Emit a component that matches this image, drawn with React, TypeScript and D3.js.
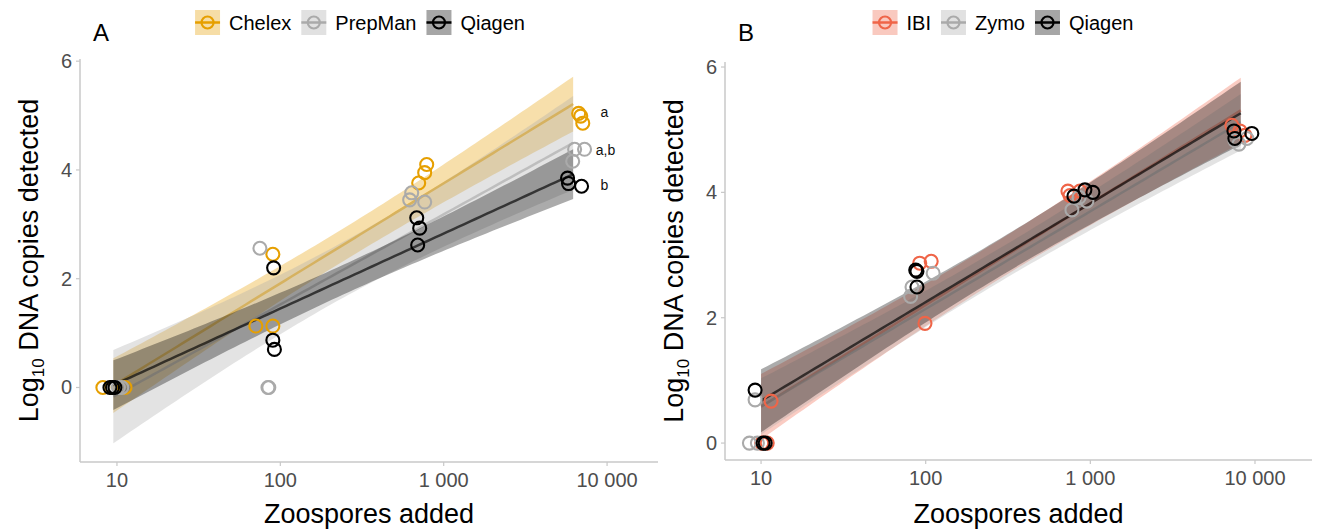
import React from "react";
import * as d3 from "d3";

const W = 1327;
const H = 532;
const FONT = "'Liberation Sans', Arial, Helvetica, sans-serif";

// ---- panel A: Chelex / PrepMan / Qiagen ----
const dosesA = [9.5, 82, 700, 6200];
// [dose group, jittered zoospores, log10 copies]
const chelexA = [
  [0, 8.2, 0], [0, 9.3, 0], [0, 11.2, 0],
  [1, 70.8, 1.13], [1, 90, 1.13], [1, 90, 2.45],
  [2, 787, 4.1], [2, 765, 3.95], [2, 703, 3.76],
  [3, 6700, 5.04], [3, 6900, 4.99], [3, 7100, 4.86],
];
const prepmanA = [
  [0, 10.7, 0], [0, 10.2, 0], [0, 9.8, 0],
  [1, 75, 2.56], [1, 84, 0], [1, 85, 0],
  [2, 637, 3.58], [2, 619, 3.45], [2, 765, 3.41],
  [3, 6330, 4.38], [3, 7280, 4.38], [3, 6160, 4.16],
];
const qiagenA = [
  [0, 9.06, 0], [0, 9.72, 0], [0, 9.4, 0],
  [1, 91, 2.2], [1, 90, 0.87], [1, 92, 0.7],
  [2, 684, 3.12], [2, 713, 2.93], [2, 693, 2.62],
  [3, 5730, 3.85], [3, 5810, 3.75], [3, 6980, 3.7],
];
const namesA = ["Chelex", "PrepMan", "Qiagen"];
const colorsA = ["#E69F00", "#AAAAAA", "#000000"];
const lettersA = [
  { text: "a", x: 9120, y: 5.07 },
  { text: "a,b", x: 8520, y: 4.37 },
  { text: "b", x: 9120, y: 3.73 },
];

// ---- panel B: IBI / Zymo / Qiagen ----
const dosesB = [10, 95, 850, 8200];
const ibiB = [
  [0, 11.5, 0.67], [0, 10.9, 0], [0, 10.1, 0],
  [1, 92, 2.87], [1, 108, 2.9], [1, 99, 1.91],
  [2, 731, 4.02], [2, 865, 4.02], [2, 752, 3.95],
  [3, 7240, 5.07], [3, 8690, 4.91], [3, 8100, 4.98],
];
const zymoB = [
  [0, 9.2, 0.69], [0, 8.5, 0], [0, 9.5, 0],
  [1, 82.6, 2.49], [1, 81, 2.34], [1, 111, 2.71],
  [2, 773, 3.72], [2, 953, 3.86], [2, 854, 3.92],
  [3, 7550, 4.83], [3, 7990, 4.77], [3, 8930, 4.86],
];
const qiagenB = [
  [0, 9.2, 0.845], [0, 10.3, 0], [0, 10.6, 0],
  [1, 87, 2.76], [1, 88.5, 2.74], [1, 88.5, 2.49],
  [2, 795, 3.94], [2, 927, 4.04], [2, 1037, 4.0],
  [3, 7450, 4.98], [3, 9570, 4.94], [3, 7550, 4.86],
];
const namesB = ["IBI", "Zymo", "Qiagen"];
const colorsB = ["#EF6548", "#AAAAAA", "#000000"];

const yTicks = [0, 2, 4, 6];
const xTicks = [10, 100, 1000, 10000];
const xTickLabels = ["10", "100", "1 000", "10 000"];

// t quantile (0.975) for n - 2 = 10 df
const T975 = 2.228;

// lm fit with 95% confidence band, like geom_smooth(method = "lm")
function lmBand(pts: number[][], doses: number[]) {
  const xs = pts.map((p) => Math.log10(doses[p[0]]));
  const ys = pts.map((p) => p[2]);
  const n = xs.length;
  const mx = d3.mean(xs)!;
  const my = d3.mean(ys)!;
  const sxx = d3.sum(xs, (x) => (x - mx) ** 2);
  const sxy = d3.sum(xs, (x, i) => (x - mx) * (ys[i] - my));
  const b = sxy / sxx;
  const a = my - b * mx;
  const sse = d3.sum(xs, (x, i) => (ys[i] - a - b * x) ** 2);
  const s = Math.sqrt(sse / (n - 2));
  const [lo, hi] = d3.extent(xs) as [number, number];
  return d3.range(81).map((i) => {
    const lx = lo + ((hi - lo) * i) / 80;
    const yh = a + b * lx;
    const se = s * Math.sqrt(1 / n + (lx - mx) ** 2 / sxx);
    return { x: 10 ** lx, y: yh, lo: yh - T975 * se, hi: yh + T975 * se };
  });
}

let ctx: CanvasRenderingContext2D | null = null;
function textWidth(t: string, size: number) {
  if (!ctx) ctx = document.createElement("canvas").getContext("2d");
  if (!ctx) return t.length * size * 0.55;
  ctx.font = `${size}px ${FONT}`;
  return ctx.measureText(t).width;
}

type PanelProps = {
  letter: string;
  left: number;
  right: number;
  top: number;
  bottom: number;
  xDomain: number[];
  yDomain: number[];
  doses: number[];
  groups: number[][][];
  names: string[];
  colors: string[];
  legendCenter: number;
  notes?: { text: string; x: number; y: number }[];
};

function Panel(p: PanelProps) {
  const x = d3.scaleLog().domain(p.xDomain).range([p.left, p.right]);
  const y = d3.scaleLinear().domain(p.yDomain).range([p.bottom, p.top]);
  const area = d3
    .area<{ x: number; lo: number; hi: number }>()
    .x((d) => x(d.x))
    .y0((d) => y(d.lo))
    .y1((d) => y(d.hi));
  const line = d3
    .line<{ x: number; y: number }>()
    .x((d) => x(d.x))
    .y((d) => y(d.y));

  const axisColor = "#c8c8c8";
  const tickColor = "#4d4d4d";
  const midY = (p.top + p.bottom) / 2;
  const midX = (p.left + p.right) / 2;

  // legend layout
  const key = 25;
  const legendSize = 20;
  const widths = p.names.map((n) => key + 9 + textWidth(n, legendSize));
  const total = d3.sum(widths) + 10 * (p.names.length - 1);
  let lx = p.legendCenter - total / 2;
  const legendItems = p.names.map((n, i) => {
    const item = { name: n, color: p.colors[i], x: lx };
    lx += widths[i] + 10;
    return item;
  });

  return (
    <g fontFamily={FONT}>
      {/* axes */}
      <line x1={p.left} x2={p.left} y1={p.top} y2={p.bottom} stroke={axisColor} strokeWidth={1.5} />
      <line x1={p.left} x2={p.right} y1={p.bottom} y2={p.bottom} stroke={axisColor} strokeWidth={1.5} />
      {yTicks.map((t) => (
        <g key={"y" + t}>
          <line x1={p.left - 4} x2={p.left} y1={y(t)} y2={y(t)} stroke={axisColor} strokeWidth={1.2} />
          <text x={p.left - 8} y={y(t) + 7} textAnchor="end" fontSize={20} fill={tickColor}>
            {t}
          </text>
        </g>
      ))}
      {xTicks.map((t, i) => (
        <g key={"x" + t}>
          <line x1={x(t)} x2={x(t)} y1={p.bottom} y2={p.bottom + 4} stroke={axisColor} strokeWidth={1.2} />
          <text x={x(t)} y={p.bottom + 25} textAnchor="middle" fontSize={20} fill={tickColor}>
            {xTickLabels[i]}
          </text>
        </g>
      ))}

      {/* smooths */}
      {p.groups.map((g, i) => {
        const band = lmBand(g, p.doses);
        return (
          <g key={"s" + i}>
            <path d={area(band)!} fill={p.colors[i]} fillOpacity={0.33} />
            <path d={line(band)!} fill="none" stroke={p.colors[i]} strokeOpacity={0.65} strokeWidth={2.5} />
          </g>
        );
      })}

      {/* points */}
      {p.groups.map((g, i) =>
        g.map((d, j) => (
          <circle
            key={`p${i}-${j}`}
            cx={x(d[1])}
            cy={y(d[2])}
            r={6.5}
            fill="none"
            stroke={p.colors[i]}
            strokeWidth={2.1}
          />
        ))
      )}

      {(p.notes || []).map((n) => (
        <text key={n.text} x={x(n.x)} y={y(n.y) + 5} fontSize={14} fill="#111">
          {n.text}
        </text>
      ))}

      {/* titles */}
      <text x={midX} y={523} textAnchor="middle" fontSize={27} fill="#000">
        Zoospores added
      </text>
      <text transform={`translate(${p.left - 42},${midY}) rotate(-90)`} textAnchor="middle" fontSize={27} fill="#000">
        Log
        <tspan fontSize={17} dy={6}>10</tspan>
        <tspan dy={-6}> DNA copies detected</tspan>
      </text>
      <text x={p.left + 13} y={41} fontSize={24} fill="#000">
        {p.letter}
      </text>

      {/* legend */}
      {legendItems.map((it) => (
        <g key={"l" + it.name}>
          <rect x={it.x} y={10} width={key} height={key} fill={it.color} fillOpacity={0.35} />
          <line x1={it.x} x2={it.x + key} y1={22.5} y2={22.5} stroke={it.color} strokeWidth={2.5} />
          <circle cx={it.x + key / 2} cy={22.5} r={6} fill="none" stroke={it.color} strokeWidth={2.2} />
          <text x={it.x + key + 9} y={29.5} fontSize={legendSize} fill="#000">
            {it.name}
          </text>
        </g>
      ))}
    </g>
  );
}

export default function App() {
  return (
    <svg
      width={W}
      height={H}
      style={{ position: "absolute", left: 0, top: 0, background: "#fff" }}
    >
      <rect width={W} height={H} fill="#fff" />
      <Panel
        letter="A"
        left={80}
        right={658}
        top={59}
        bottom={462}
        xDomain={[5.94, 20500]}
        yDomain={[-1.37, 6.04]}
        doses={dosesA}
        groups={[chelexA, prepmanA, qiagenA]}
        names={namesA}
        colors={colorsA}
        legendCenter={360}
        notes={lettersA}
      />
      <Panel
        letter="B"
        left={725}
        right={1312}
        top={62}
        bottom={460}
        xDomain={[6.04, 22200]}
        yDomain={[-0.27, 6.08]}
        doses={dosesB}
        groups={[ibiB, zymoB, qiagenB]}
        names={namesB}
        colors={colorsB}
        legendCenter={1003}
      />
    </svg>
  );
}
